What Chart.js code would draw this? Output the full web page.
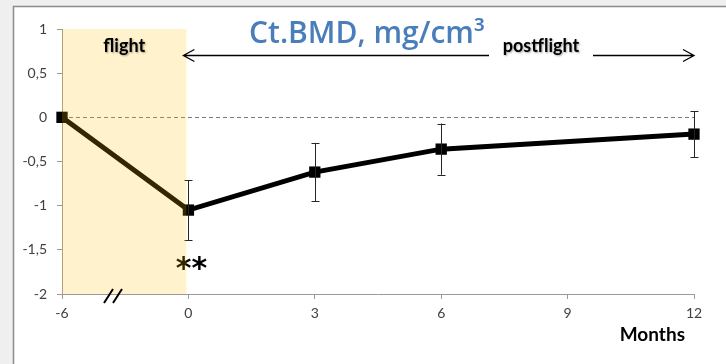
<!DOCTYPE html>
<html>
<head>
<meta charset="utf-8">
<script src="https://cdn.jsdelivr.net/npm/chart.js@4"></script>
<style>
  html, body { margin: 0; padding: 0; background: #f0f0f0; }
  #wrap { width: 726px; height: 364px; position: relative; }
</style>
</head>
<body>
<div id="wrap"><canvas id="ctChart"></canvas></div>
<script>
// Ct.BMD change vs. months (flight / postflight)
const meses = ['-6', '0', '3', '6', '9', '12'];
const valores = [0, -1.05, -0.62, -0.36, null, -0.19];
const errores = [null, 0.34, 0.33, 0.29, null, 0.26];
const ticksY = [-2, -1.5, -1, -0.5, 0, 0.5, 1];

const FUENTE = 'Lato, "Open Sans", sans-serif';

// fondo y marco del gráfico
const marco = {
    id: 'marco',
    beforeDraw(chart) {
        const ctx = chart.ctx;
        ctx.save();
        ctx.fillStyle = '#efefef';
        ctx.fillRect(0, 0, chart.width, chart.height);
        ctx.fillStyle = '#ffffff';
        ctx.fillRect(13, 6, chart.width - 13, chart.height - 6);
        ctx.strokeStyle = '#8c8c8c';
        ctx.lineWidth = 1.5;
        ctx.beginPath();
        ctx.moveTo(13.5, chart.height);
        ctx.lineTo(13.5, 6.5);
        ctx.lineTo(chart.width, 6.5);
        ctx.stroke();
        ctx.restore();
    },
    beforeDatasetsDraw(chart) {
        // línea de cero discontinua
        const ctx = chart.ctx;
        const x = chart.scales.x, y = chart.scales.y;
        const y0 = Math.round(y.getPixelForValue(0)) + 0.5;
        ctx.save();
        ctx.strokeStyle = '#7a7a7a';
        ctx.lineWidth = 1;
        ctx.setLineDash([4, 3]);
        ctx.beginPath();
        ctx.moveTo(x.getPixelForValue(0), y0);
        ctx.lineTo(x.getPixelForValue(5), y0);
        ctx.stroke();
        ctx.restore();
    }
};

// barras de error, anotaciones y zona de vuelo
const extras = {
    id: 'extras',
    afterDatasetsDraw(chart) {
        const ctx = chart.ctx;
        const x = chart.scales.x, y = chart.scales.y;
        ctx.save();

        // barras de error
        ctx.strokeStyle = '#262626';
        ctx.lineWidth = 1;
        errores.forEach((e, i) => {
            if (e === null || valores[i] === null) return;
            const px = Math.round(x.getPixelForValue(i)) + 0.5;
            const top = y.getPixelForValue(valores[i] + e);
            const bot = y.getPixelForValue(valores[i] - e);
            ctx.beginPath();
            ctx.moveTo(px, top); ctx.lineTo(px, bot);
            ctx.moveTo(px - 4, Math.round(top) + 0.5); ctx.lineTo(px + 4, Math.round(top) + 0.5);
            ctx.moveTo(px - 4, Math.round(bot) + 0.5); ctx.lineTo(px + 4, Math.round(bot) + 0.5);
            ctx.stroke();
        });

        // asteriscos de significación
        ctx.fillStyle = '#000';
        ctx.font = 'bold 30px "DejaVu Sans", sans-serif';
        ctx.textAlign = 'center';
        ctx.textBaseline = 'middle';
        ctx.fillText('**', x.getPixelForValue(1) + 3, y.getPixelForValue(-1.73));

        // zona de vuelo (semitransparente, encima de la línea)
        const xa = x.getPixelForValue(0), xb = x.getPixelForValue(1) - 2;
        const ya = y.getPixelForValue(1), yb = y.getPixelForValue(-2);
        ctx.fillStyle = 'rgba(255, 189, 0, 0.2)';
        ctx.fillRect(xa, ya, xb - xa, yb - ya);

        // textos flight / postflight
        ctx.shadowColor = 'rgba(0,0,0,0.35)';
        ctx.shadowBlur = 2;
        ctx.shadowOffsetX = 1;
        ctx.shadowOffsetY = 1;
        ctx.fillStyle = '#000';
        ctx.font = 'bold 18px ' + FUENTE;
        ctx.fillText('flight', (xa + xb) / 2, y.getPixelForValue(0.81));
        ctx.fillText('postflight', 541, y.getPixelForValue(0.81));
        ctx.shadowColor = 'transparent';

        // flechas
        const ya7 = Math.round(y.getPixelForValue(0.7)) + 0.5;
        const xl = x.getPixelForValue(1) - 5, xr = x.getPixelForValue(5);
        ctx.strokeStyle = '#000';
        ctx.lineWidth = 1.3;
        ctx.beginPath();
        ctx.moveTo(xl, ya7); ctx.lineTo(489, ya7);
        ctx.moveTo(xl + 11, ya7 - 6); ctx.lineTo(xl, ya7); ctx.lineTo(xl + 11, ya7 + 6);
        ctx.moveTo(593, ya7); ctx.lineTo(xr, ya7);
        ctx.moveTo(xr - 11, ya7 - 6); ctx.lineTo(xr, ya7); ctx.lineTo(xr - 11, ya7 + 6);
        ctx.stroke();

        // título
        ctx.fillStyle = '#4a7ebb';
        ctx.font = '600 30px "Open Sans", sans-serif';
        ctx.textAlign = 'left';
        ctx.textBaseline = 'alphabetic';
        ctx.fillText('Ct.BMD, mg/cm³', 249, 43);

        // corte del eje
        ctx.strokeStyle = '#000';
        ctx.lineWidth = 2;
        ctx.beginPath();
        ctx.moveTo(104, 303); ctx.lineTo(113, 289);
        ctx.moveTo(113, 303); ctx.lineTo(122, 289);
        ctx.stroke();

        // etiqueta del eje X
        ctx.fillStyle = '#000';
        ctx.font = 'bold 19px ' + FUENTE;
        ctx.textAlign = 'right';
        ctx.textBaseline = 'middle';
        ctx.fillText('Months', 685, 335);
        ctx.restore();
    }
};

const ctx = document.getElementById('ctChart').getContext('2d');
new Chart(ctx, {
    type: 'line',
    data: {
        labels: meses,
        datasets: [{
            data: valores,
            borderColor: '#000',
            backgroundColor: '#000',
            borderWidth: 5,
            pointStyle: 'rect',
            pointRadius: 8,
            pointBorderWidth: 0,
            spanGaps: true,
            tension: 0,
            fill: false
        }]
    },
    options: {
        responsive: true,
        maintainAspectRatio: false,
        animation: false,
        devicePixelRatio: 1,
        layout: { padding: { left: 0, top: 29, right: 32, bottom: 0 } },
        plugins: {
            legend: { display: false },
            tooltip: { enabled: false }
        },
        scales: {
            x: {
                type: 'category',
                offset: false,
                afterFit: s => { s.height = 70; },
                grid: { drawOnChartArea: false, drawTicks: true, tickLength: 5, color: '#9a9a9a' },
                border: { color: '#9a9a9a' },
                ticks: { color: '#404040', font: { family: FUENTE, size: 14 }, padding: 6, maxRotation: 0 }
            },
            y: {
                min: -2,
                max: 1,
                afterFit: s => { s.width = 62; },
                afterBuildTicks: s => { s.ticks = ticksY.map(v => ({ value: v })); },
                grid: { drawOnChartArea: false, drawTicks: true, tickLength: 5, color: '#9a9a9a' },
                border: { color: '#9a9a9a' },
                ticks: {
                    color: '#404040',
                    font: { family: FUENTE, size: 14 },
                    padding: 10,
                    callback: v => String(v).replace('.', ',')
                }
            }
        }
    },
    plugins: [marco, extras]
});
</script>
</body>
</html>
